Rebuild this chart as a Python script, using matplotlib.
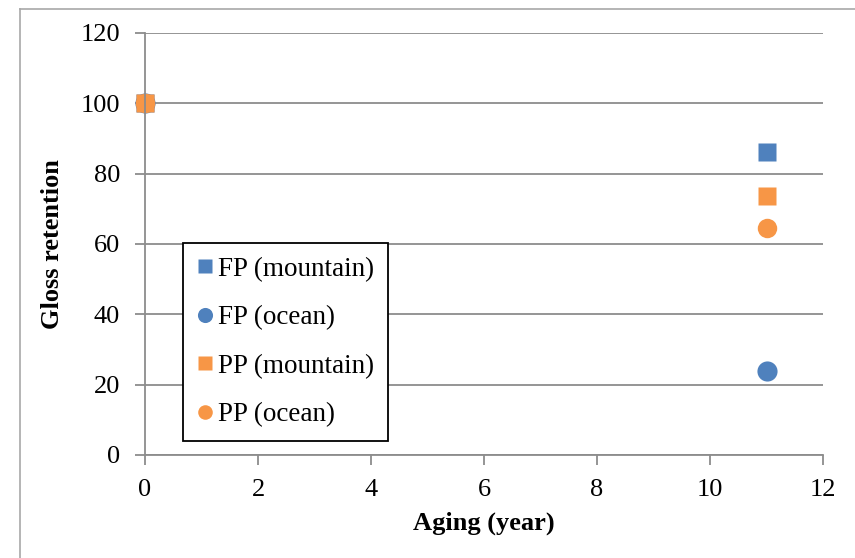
import matplotlib.pyplot as plt
from matplotlib.lines import Line2D

plt.rcParams['font.family'] = ['Liberation Serif', 'DejaVu Serif']

# data
aging = [0, 11]
fp_mountain = [100, 86.2]
fp_ocean = [100, 23.9]
pp_mountain = [100, 73.6]
pp_ocean = [100, 64.5]

blue = '#4F81BD'
orange = '#F79646'
grid_c = '#8c8c8c'

fig = plt.figure(figsize=(8.55, 5.58), dpi=100)
ax = fig.add_axes([0.1696, 0.1846, 0.7930, 0.7563])

ax.plot(aging, fp_mountain, 's', color=blue, ms=13.5, mec='none', clip_on=False,
        label='FP (mountain)')
ax.plot(aging, fp_ocean, 'o', color=blue, ms=14.5, mec='none', clip_on=False,
        label='FP (ocean)')
ax.plot(aging, pp_ocean, 'o', color=orange, ms=14, mec='none', clip_on=False,
        label='PP (ocean)')
ax.plot(aging, pp_mountain, 's', color=orange, ms=13.5, mec='none', clip_on=False,
        label='PP (mountain)')

ax.set_xlim(0, 12)
ax.set_ylim(0, 120)
ax.set_xticks(range(0, 13, 2))
ax.set_yticks(range(0, 121, 20))
ax.yaxis.grid(True, color=grid_c, lw=1.3)
ax.set_axisbelow(True)
for s in ['top', 'right']:
    ax.spines[s].set_visible(False)
for s in ['left', 'bottom']:
    ax.spines[s].set_color(grid_c)
    ax.spines[s].set_linewidth(1.3)
ax.tick_params(axis='both', colors=grid_c, width=1.3, length=7, labelsize=19,
               labelcolor='black')
ax.tick_params(axis='y', pad=11)
ax.tick_params(axis='x', pad=10)

ax.set_xlabel('Aging (year)', fontsize=19, fontweight='bold', labelpad=8)
ax.set_ylabel('Gloss retention', fontsize=19, fontweight='bold', labelpad=12)

h, l = ax.get_legend_handles_labels()
order = [0, 1, 3, 2]
leg = ax.legend([h[i] for i in order], [l[i] for i in order],
                loc='lower left', bbox_to_anchor=(0.056, 0.033), borderaxespad=0,
                fontsize=19.5, frameon=True, fancybox=False, framealpha=1,
                edgecolor='black', handlelength=0.6, handletextpad=0.2,
                labelspacing=0.87, borderpad=0.5, markerscale=0.75)
leg.get_frame().set_linewidth(1.3)

# light frame at the top and left of the image
border_c = '#a8a8a8'
fig.lines.append(Line2D([20 / 855, 20 / 855], [0, 1 - 9 / 558], transform=fig.transFigure,
                        color=border_c, lw=1.2))
fig.lines.append(Line2D([20 / 855, 1], [1 - 9 / 558, 1 - 9 / 558], transform=fig.transFigure,
                        color=border_c, lw=1.2))

plt.savefig('out.png', dpi=100)
